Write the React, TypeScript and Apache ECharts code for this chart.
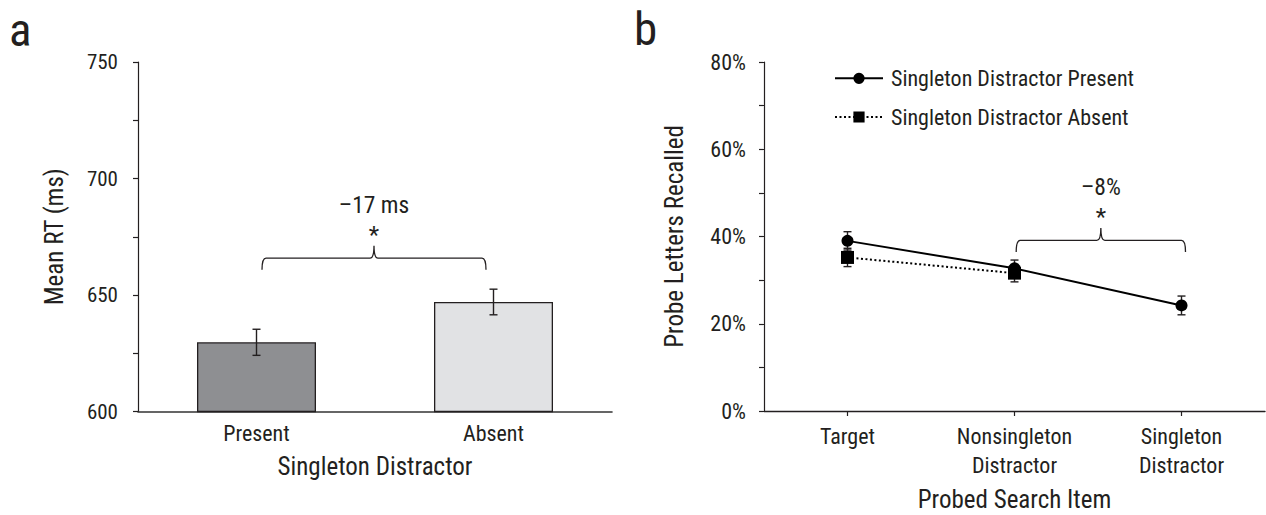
import React, { useEffect, useRef } from "react";
import * as echarts from "echarts";

// ---------- data ----------
const rtCategories = ["Present", "Absent"];
const rtMeans = [629.7, 647.0];
const rtErrors = [5.6, 5.5];
const rtColors = ["#8e8f92", "#e1e2e4"];
const rtAxis = { min: 600, max: 750, interval: 50 };

const probeCategories = ["Target", "Nonsingleton\nDistractor", "Singleton\nDistractor"];
const presentMeans = [39.0, 32.7, 24.2];
const presentErrors = [2.1, 1.9, 2.15];
const absentMeans: (number | null)[] = [35.2, 31.6, null];
const absentErrors: (number | null)[] = [2.1, 2.0, null];
const pctAxis = { min: 0, max: 80, interval: 20 };

const seriesNames = ["Singleton Distractor Present", "Singleton Distractor Absent"];
const rtAnnotation = { label: "\u201317 ms", star: "*", from: 0, to: 1, value: 665.8 };
const pctAnnotation = { label: "\u20138%", star: "*", from: 1, to: 2, value: 39.1 };

const FONT = "'Liberation Sans Narrow', 'Arial Narrow', 'Roboto Condensed', 'DejaVu Sans Condensed', Roboto, sans-serif";
const INK = "#231f20";

const Brace = echarts.graphic.extendShape({
  shape: { x1: 0, x2: 0, y: 0, drop: 11, rise: 12, r: 4 },
  buildPath(ctx: any, s: any) {
    const xm = (s.x1 + s.x2) / 2;
    ctx.moveTo(s.x1, s.y + s.drop);
    ctx.quadraticCurveTo(s.x1, s.y, s.x1 + s.r, s.y);
    ctx.lineTo(xm - s.r, s.y);
    ctx.quadraticCurveTo(xm, s.y, xm, s.y - s.rise);
    ctx.quadraticCurveTo(xm, s.y, xm + s.r, s.y);
    ctx.lineTo(s.x2 - s.r, s.y);
    ctx.quadraticCurveTo(s.x2, s.y, s.x2, s.y + s.drop);
  },
});
echarts.graphic.registerShape("brace", Brace);

function errorRenderer(capHalf: number) {
  return (params: any, api: any) => {
    const x = api.value(0);
    const m = api.value(1);
    const e = api.value(2);
    if (isNaN(m) || isNaN(e)) return null;
    const top = api.coord([x, m + e]);
    const bot = api.coord([x, m - e]);
    const st = { stroke: INK, lineWidth: 1.4 };
    return {
      type: "group",
      children: [
        { type: "line", shape: { x1: top[0], y1: top[1], x2: bot[0], y2: bot[1] }, style: st },
        { type: "line", shape: { x1: top[0] - capHalf, y1: top[1], x2: top[0] + capHalf, y2: top[1] }, style: st },
        { type: "line", shape: { x1: bot[0] - capHalf, y1: bot[1], x2: bot[0] + capHalf, y2: bot[1] }, style: st },
      ],
    };
  };
}

export default function App() {
  const ref = useRef<HTMLDivElement>(null);
  useEffect(() => {
    if (!ref.current) return;
    const chart = echarts.init(ref.current, undefined, { renderer: "svg" });
    const tickLabel = { fontFamily: FONT, fontSize: 21, color: INK };
    const nameStyle = { fontFamily: FONT, fontSize: 25, color: INK };
    const option: any = {
      animation: false,
      backgroundColor: "#ffffff",
      grid: [
        { left: 138, top: 62, width: 474, height: 349.5, outerBoundsMode: "none", containLabel: false },
        { left: 764, top: 62, width: 501, height: 349, outerBoundsMode: "none", containLabel: false },
      ],
      xAxis: [
        {
          type: "category",
          gridIndex: 0,
          data: rtCategories,
          boundaryGap: true,
          axisLine: { lineStyle: { color: "#333", width: 1.6 } },
          axisTick: { show: false },
          axisLabel: { ...tickLabel, fontSize: 22, margin: 11 },
          name: "Singleton Distractor",
          nameLocation: "middle",
          nameGap: 42,
          nameMoveOverlap: false,
          nameTextStyle: nameStyle,
        },
        {
          type: "category",
          gridIndex: 1,
          data: probeCategories,
          boundaryGap: true,
          axisLine: { lineStyle: { color: INK, width: 1.4 } },
          axisTick: { show: true, alignWithLabel: true, length: 5, lineStyle: { color: INK, width: 1.2 } },
          axisLabel: { ...tickLabel, fontSize: 22, margin: 11.5, lineHeight: 28.5 },
          name: "Probed Search Item",
          nameLocation: "middle",
          nameGap: 77,
          nameMoveOverlap: false,
          nameTextStyle: { ...nameStyle, lineHeight: 22 },
        },
      ],
      yAxis: [
        {
          type: "value",
          gridIndex: 0,
          min: rtAxis.min,
          max: rtAxis.max,
          interval: rtAxis.interval,
          axisLine: { show: true, lineStyle: { color: INK, width: 1.2 } },
          axisTick: { show: true, length: 5, lineStyle: { color: INK, width: 1.2 } },
          minorTick: { show: true, splitNumber: 2, length: 5, lineStyle: { color: INK, width: 1.2 } },
          splitLine: { show: false },
          axisLabel: { ...tickLabel, margin: 20 },
          name: "Mean RT (ms)",
          nameLocation: "middle",
          nameGap: 71,
          nameMoveOverlap: false,
          nameTextStyle: nameStyle,
        },
        {
          type: "value",
          gridIndex: 1,
          min: pctAxis.min,
          max: pctAxis.max,
          interval: pctAxis.interval,
          axisLine: { show: true, lineStyle: { color: INK, width: 1.2 } },
          axisTick: { show: true, length: 5, lineStyle: { color: INK, width: 1.2 } },
          minorTick: { show: true, splitNumber: 2, length: 5, lineStyle: { color: INK, width: 1.2 } },
          splitLine: { show: false },
          axisLabel: { ...tickLabel, fontSize: 22, margin: 18, formatter: "{value}%" },
          name: "Probe Letters Recalled",
          nameLocation: "middle",
          nameGap: 77,
          nameMoveOverlap: false,
          nameTextStyle: nameStyle,
        },
      ],
      legend: {
        left: 829,
        top: 62.3,
        orient: "vertical",
        itemWidth: 48,
        itemHeight: 14,
        itemGap: 16.7,
        data: seriesNames,
        textStyle: { fontFamily: FONT, fontSize: 22, color: INK, padding: [0, 0, 0, 3] },
      },
      series: [
        {
          type: "bar",
          xAxisIndex: 0,
          yAxisIndex: 0,
          barWidth: 119,
          data: rtMeans.map((v, i) => ({
            value: v,
            itemStyle: { color: rtColors[i], borderColor: INK, borderWidth: 1.3 },
          })),
          z: 2,
        },
        {
          type: "custom",
          xAxisIndex: 0,
          yAxisIndex: 0,
          renderItem: errorRenderer(4),
          encode: { x: 0, y: 1 },
          data: rtMeans.map((v, i) => [i, v, rtErrors[i]]),
          z: 3,
        },
        {
          type: "custom",
          xAxisIndex: 1,
          yAxisIndex: 1,
          renderItem: errorRenderer(4),
          encode: { x: 0, y: 1 },
          data: presentMeans.map((v, i) => [i, v, presentErrors[i]]),
          z: 2,
        },
        {
          type: "custom",
          xAxisIndex: 1,
          yAxisIndex: 1,
          renderItem: errorRenderer(4),
          encode: { x: 0, y: 1 },
          data: absentMeans
            .map((v, i) => (v == null ? null : [i, v, absentErrors[i]]))
            .filter((d) => d != null),
          z: 2,
        },
        {
          name: seriesNames[1],
          type: "line",
          xAxisIndex: 1,
          yAxisIndex: 1,
          data: absentMeans,
          symbol: "rect",
          symbolSize: 13,
          itemStyle: { color: "#000" },
          lineStyle: { color: "#000", width: 2, type: [2, 2.5] },
          z: 4,
        },
        {
          name: seriesNames[0],
          type: "line",
          xAxisIndex: 1,
          yAxisIndex: 1,
          data: presentMeans,
          symbol: "circle",
          symbolSize: 12,
          itemStyle: { color: "#000" },
          lineStyle: { color: "#000", width: 2 },
          z: 5,
        },
      ],
    };
    chart.setOption(option);

    const annot = (gi: number, a: any, endOffsets: [number, number]) => {
      const p1 = chart.convertToPixel({ gridIndex: gi }, [a.from, a.value]) as number[];
      const p2 = chart.convertToPixel({ gridIndex: gi }, [a.to, a.value]) as number[];
      const x1 = p1[0] + endOffsets[0];
      const x2 = p2[0] + endOffsets[1];
      const y = p1[1];
      const xm = (x1 + x2) / 2;
      return [
        {
          type: "brace",
          shape: { x1, x2, y, drop: 11.5, rise: 12.5, r: 4 },
          style: { stroke: INK, lineWidth: 1.3, fill: "none" },
        },
        {
          type: "text",
          x: xm,
          y: y - 53,
          style: { text: a.label, fontFamily: FONT, fontSize: 23.5, fill: INK, align: "center", verticalAlign: "middle" },
        },
        {
          type: "text",
          x: xm,
          y: y - 23,
          style: { text: a.star, fontFamily: FONT, fontSize: 24, fill: INK, align: "center", verticalAlign: "middle" },
        },
      ];
    };

    chart.setOption({
      graphic: [
        ...annot(0, rtAnnotation, [5.5, -7.5]),
        ...annot(1, pctAnnotation, [1.7, 4]),
        {
          type: "text",
          left: 9,
          top: 6,
          style: { text: "a", fontFamily: FONT, fontSize: 47, fill: INK },
        },
        {
          type: "text",
          left: 634,
          top: 5,
          style: { text: "b", fontFamily: FONT, fontSize: 47, fill: INK },
        },
      ],
    });

    return () => chart.dispose();
  }, []);
  return (
    <div
      ref={ref}
      style={{ position: "fixed", left: 0, top: 0, width: 1266, height: 515, background: "#fff" }}
    />
  );
}
